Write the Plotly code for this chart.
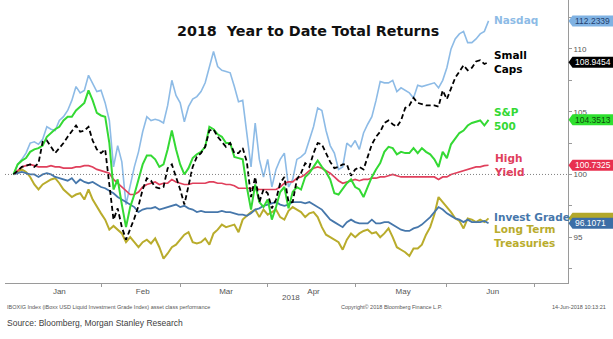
import pandas as pd
import plotly.graph_objects as go

# ---------------- data (index level, 29-Dec-2017 = 100, one value per trading day) ----------
holidays = ["2018-01-01", "2018-01-15", "2018-02-19", "2018-03-30", "2018-05-28"]
month_names = ["Jan", "Feb", "Mar", "Apr", "May", "Jun"]
axis_year = "2018"

nasdaq = [
    100.0, 100.8, 101.2, 101.7, 102.5, 102.6, 102.4, 102.8, 103.8, 103.6,
    103.5, 104.3, 104.6, 105.1, 105.9, 107.0, 106.5, 106.7, 107.9, 107.3,
    106.6, 106.7, 105.7, 104.3, 100.6, 102.3, 101.0, 97.6, 99.2, 100.6,
    101.8, 103.4, 104.6, 104.3, 104.4, 104.3, 104.1, 105.5, 107.5, 106.3,
    105.7, 104.2, 105.4, 106.0, 106.2, 106.6, 107.3, 108.5, 109.8, 108.6,
    108.3, 108.2, 108.1, 107.0, 105.8, 105.9, 103.3, 100.6, 104.1, 101.2,
    99.8, 101.2, 99.0, 100.4, 101.2, 101.7, 99.0, 99.6, 101.2, 101.4,
    101.7, 102.7, 103.8, 105.3, 105.1, 103.5, 102.3, 101.7, 100.4, 100.6,
    102.5, 102.2, 102.7, 102.0, 103.3, 104.0, 104.6, 105.9, 107.4, 107.3,
    107.3, 107.5, 106.6, 106.9, 106.7, 106.5, 106.1, 107.1, 107.0, 107.1,
    107.2, 107.3, 106.9, 107.5, 108.5, 110.0, 110.8, 111.2, 111.4, 110.5,
    110.5, 110.8, 111.2, 111.4, 112.2339]

small_caps = [
    100.0, 100.3, 100.6, 100.7, 100.8, 100.6, 100.9, 102.6, 102.7, 102.2,
    101.7, 102.1, 102.5, 103.0, 103.5, 103.9, 103.4, 103.5, 103.8, 102.7,
    102.0, 101.7, 102.0, 99.0, 96.4, 97.3, 95.8, 94.8, 95.6, 96.5,
    97.5, 98.8, 99.7, 99.5, 99.0, 98.9, 99.0, 100.5, 100.8, 99.8,
    98.8, 97.6, 99.0, 100.6, 101.4, 101.7, 102.2, 103.5, 103.6, 103.0,
    102.6, 102.2, 102.5, 101.7, 101.7, 102.1, 101.0, 98.2, 99.8, 97.8,
    98.8, 98.5, 97.3, 98.0, 99.3, 99.8, 97.8, 97.8, 99.6, 100.1,
    100.9, 100.6, 101.7, 102.5, 102.4, 101.7, 101.0, 100.5, 100.6, 100.8,
    100.8, 99.9, 100.4, 100.6, 100.4, 101.4, 102.4, 103.0, 103.4, 104.1,
    104.3, 104.0, 103.8, 104.3, 105.3, 105.5, 106.1, 105.7, 105.6, 105.5,
    105.5, 105.5, 105.4, 106.7, 106.0, 106.9, 107.7, 108.2, 108.7, 108.3,
    108.5, 109.0, 109.1, 108.8, 108.9454]

sp500 = [
    100.0, 100.8, 101.1, 101.3, 101.8, 102.0, 102.1, 102.3, 103.0, 103.3,
    103.6, 103.8, 104.3, 104.6, 104.6, 105.1, 105.4, 105.7, 106.7, 105.9,
    104.9, 104.7, 104.6, 102.5, 98.8, 99.6, 97.6, 95.8, 97.4, 98.4,
    99.6, 100.8, 101.5, 101.5, 101.2, 100.6, 100.8, 102.0, 103.5, 102.0,
    100.8, 100.0, 100.5, 101.3, 101.6, 101.8, 102.2, 103.8, 103.6, 103.2,
    103.0, 102.5, 102.5, 101.4, 101.3, 101.2, 99.0, 97.2, 99.2, 97.8,
    97.4, 98.0, 96.4, 97.4, 98.6, 99.0, 97.3, 98.6, 99.0, 98.8,
    99.8, 100.1, 100.6, 101.1, 100.6, 100.2, 99.6, 98.5, 98.4, 98.9,
    99.3, 99.6, 99.0, 98.8, 98.2, 99.0, 99.8, 100.4, 100.9, 101.8,
    102.2, 102.1, 101.6, 101.8, 101.7, 101.7, 102.1, 101.7, 102.1, 101.8,
    101.6, 101.2, 100.6, 101.8, 101.3, 102.4, 102.9, 103.3, 103.5, 103.9,
    104.1, 104.2, 104.3, 103.9, 104.3513]

high_yield = [
    100.0, 100.3, 100.6, 100.7, 100.8, 100.7, 100.6, 100.6, 100.6, 100.7,
    100.6, 100.6, 100.5, 100.5, 100.5, 100.6, 100.6, 100.7, 100.7, 100.6,
    100.4, 100.3, 100.2, 100.1, 99.6, 99.3, 99.0, 98.7, 98.4, 98.4,
    98.6, 99.0, 99.2, 99.3, 99.4, 99.2, 99.3, 99.3, 99.6, 99.4,
    99.3, 99.2, 99.2, 99.3, 99.3, 99.3, 99.3, 99.4, 99.4, 99.3,
    99.3, 99.2, 99.2, 99.1, 98.9, 98.9, 98.9, 98.9, 98.9, 98.8,
    98.8, 98.8, 98.8, 98.8, 99.0, 99.3, 99.4, 99.4, 99.7, 99.8,
    100.0, 100.3, 100.5, 100.6, 100.5, 100.3, 100.1, 99.8, 99.5, 99.3,
    99.4, 99.5, 99.6, 99.5, 99.6, 99.6, 99.7, 99.7, 99.8, 99.8,
    99.9, 100.0, 99.9, 99.8, 99.8, 99.8, 99.8, 99.8, 99.8, 99.8,
    99.8, 99.8, 99.6, 99.8, 99.8, 100.0, 100.1, 100.2, 100.3, 100.4,
    100.5, 100.6, 100.6, 100.7, 100.7325]

invest_grade = [
    100.0, 100.1, 100.2, 100.1, 100.0, 100.0, 99.8, 100.0, 100.1, 100.0,
    99.8, 99.7, 99.6, 99.5, 99.7, 99.3, 99.6, 99.4, 99.3, 99.4,
    99.2, 99.0, 98.9, 98.7, 98.5, 98.2, 98.0, 97.8, 97.6, 97.4,
    97.0, 97.2, 97.3, 97.3, 97.4, 97.2, 97.3, 97.4, 97.5, 97.6,
    97.4, 97.5, 97.3, 97.2, 97.0, 97.1, 97.0, 97.0, 97.0, 97.0,
    97.1, 97.0, 97.0, 96.9, 96.8, 96.8, 96.7, 96.9, 97.2, 97.3,
    97.5, 97.6, 97.7, 97.8, 97.6, 97.5, 97.6, 97.8, 97.8, 97.8,
    97.7, 97.8, 97.6, 97.4, 97.2, 96.8, 96.4, 96.2, 96.0, 95.8,
    96.2, 96.4, 96.2, 96.1, 96.1, 96.1, 96.4, 96.1, 96.1, 96.2,
    96.2, 96.0, 95.8, 95.6, 95.5, 95.5, 95.7, 95.8, 96.0, 96.3,
    96.6, 97.0, 97.4, 97.2, 96.9, 96.7, 96.5, 96.4, 96.2, 96.4,
    96.2, 96.2, 96.2, 96.3, 96.1071]

long_treasuries = [
    100.0, 100.2, 100.4, 100.2, 99.8, 99.2, 98.8, 99.2, 99.4, 99.6,
    99.7, 99.3, 98.8, 98.5, 98.2, 98.4, 98.5, 98.0, 98.8, 98.0,
    97.4, 96.9, 96.4, 95.6, 95.9, 95.6, 95.3, 94.6, 95.0, 94.6,
    94.2, 94.6, 94.8, 94.5, 94.9, 94.2, 93.3, 93.7, 94.2, 94.4,
    94.8, 95.2, 95.4, 94.6, 94.5, 94.6, 94.9, 94.4, 95.3, 95.6,
    96.0, 95.8, 95.9, 96.0, 95.4, 96.4, 96.7, 97.0, 97.2, 96.6,
    97.2, 96.8, 97.0, 97.2, 96.6, 96.4, 97.1, 97.4, 97.2, 97.0,
    96.6, 96.9, 97.0, 96.6, 95.8, 95.2, 95.0, 94.8, 94.6, 94.0,
    94.8, 95.3, 95.0, 95.3, 95.5, 95.6, 95.3, 95.4, 95.0, 95.3,
    95.7, 95.0, 94.2, 94.0, 93.8, 93.5, 94.1, 94.1, 94.4, 95.2,
    95.8, 96.8, 98.2, 97.8, 97.4, 97.0, 96.5, 96.3, 95.7, 96.5,
    96.4, 96.2, 96.4, 96.2, 96.5]

series_names = ["Nasdaq", "Long Term Treasuries", "Invest Grade", "High Yield", "S&P 500", "Small Caps"]

# ---------------- trading calendar ----------------
cal = pd.bdate_range("2017-12-29", "2018-06-29")
cal = cal[~cal.isin(pd.to_datetime(holidays))]
pos = list(range(len(cal)))
month_end_pos, month_mid_pos = [], []
for m in range(1, 7):
    ids = [p for p, d in zip(pos, cal) if d.month == m and d.year == 2018]
    month_end_pos.append(max(ids))
    month_mid_pos.append(sum(ids) / len(ids))

# ---------------- figure geometry helpers ----------------
W, H = 613, 339
ML, MR, MT, MB = 5, 45, 0, 56
PW, PH = W - ML - MR, H - MT - MB
Y_LO, Y_HI = 91.35, 113.9


def px_x(px):
    return (px - ML) / PW


def px_y(py):
    return (H - MB - py) / PH


colors = {
    "Nasdaq": "#8dbbe6",
    "Small Caps": "#000000",
    "S&P 500": "#34d934",
    "High Yield": "#e0405c",
    "Invest Grade": "#4677ab",
    "Long Term Treasuries": "#b9ac2c",
}

data = {
    "Nasdaq": nasdaq,
    "Long Term Treasuries": long_treasuries,
    "Invest Grade": invest_grade,
    "High Yield": high_yield,
    "S&P 500": sp500,
    "Small Caps": small_caps,
}

fig = go.Figure()
for name in series_names:
    vals = data[name]
    dash = "5px,3px" if name == "Small Caps" else "solid"
    width = {"Nasdaq": 1.6, "S&P 500": 2.0, "Small Caps": 1.8, "High Yield": 1.7,
             "Invest Grade": 1.8, "Long Term Treasuries": 2.0}[name]
    fig.add_trace(go.Scatter(
        x=pos[:len(vals)], y=vals, mode="lines", name=name,
        text=[d.strftime("%d-%b-%Y") for d in cal[:len(vals)]],
        hovertemplate="%{text}: %{y:.2f}<extra>" + name + "</extra>",
        line=dict(color=colors[name], width=width, dash=dash),
        showlegend=False,
    ))

x_lo = (ML - 13.5) / 4.167
x_hi = (W - MR - 13.5) / 4.167

fig.update_layout(
    template="none",
    width=W, height=H,
    margin=dict(l=ML, r=MR, t=MT, b=MB, autoexpand=False),
    paper_bgcolor="white", plot_bgcolor="white",
    font=dict(family="Liberation Sans, Arial, sans-serif", color="#555555"),
    xaxis=dict(
        range=[x_lo, x_hi], autorange=False, automargin=False,
        showgrid=False, zeroline=False,
        showline=True, linecolor="#9a9a9a", linewidth=1,
        tickmode="array", tickvals=month_mid_pos, ticktext=month_names,
        ticks="", tickfont=dict(size=8, color="#555555"),
        minor=dict(tickmode="array", tickvals=month_end_pos, ticks="outside",
                   ticklen=3, tickcolor="#9a9a9a", showgrid=False),
    ),
    yaxis=dict(
        side="right", range=[Y_LO, Y_HI], autorange=False, automargin=False,
        showgrid=False, zeroline=False,
        showline=True, linecolor="#9a9a9a", linewidth=1,
        tickmode="array", tickvals=[95, 100, 105, 110],
        ticks="outside", ticklen=3, tickcolor="#9a9a9a",
        tickfont=dict(size=8, color="#555555"),
        minor=dict(tickmode="array", tickvals=[92.5, 97.5, 102.5, 107.5, 112.5],
                   ticks="outside", ticklen=3, tickcolor="#9a9a9a", showgrid=False),
    ),
)

# dotted reference line at 100
fig.add_shape(type="line", xref="paper", yref="y", x0=0, x1=1, y0=100, y1=100,
              line=dict(color="#808080", width=1, dash="1px,2px"))

annotations = []
# title
annotations.append(dict(text="2018\u00a0\u00a0Year to Date Total Returns", xref="paper", yref="paper",
                        x=px_x(308), y=px_y(31), xanchor="center", yanchor="middle", showarrow=False,
                        font=dict(family="DejaVu Sans", size=14.3, color="#111111", weight="bold")))

# series labels
labels = [
    ("Nasdaq", "Nasdaq", 20),
    ("Small<br>Caps", "Small Caps", 62),
    ("S&P<br>500", "S&P 500", 118.5),
    ("High<br>Yield", "High Yield", 164.5),
    ("Invest Grade", "Invest Grade", 217),
    ("Long Term<br>Treasuries", "Long Term Treasuries", 236),
]
for txt, key, py in labels:
    annotations.append(dict(text=txt, xref="paper", yref="paper", x=px_x(492), y=px_y(py),
                            xanchor="left", yanchor="middle", align="left", showarrow=False,
                            font=dict(family="DejaVu Sans", size=10.5, color=colors[key], weight="bold")))

# last-value tags on right axis (treasury tag sits underneath the invest-grade tag)
tag_order = ["Nasdaq", "Small Caps", "S&P 500", "High Yield", "Long Term Treasuries", "Invest Grade"]
tag_text_color = {"Nasdaq": "#1f3f6e", "Small Caps": "#ffffff", "S&P 500": "#0d4d0d",
                  "High Yield": "#ffffff", "Invest Grade": "#ffffff"}
tag_fill = {"Nasdaq": "#7fb2e3", "Small Caps": "#000000", "S&P 500": "#2fe02f",
            "High Yield": "#e8304f", "Long Term Treasuries": "#b3a82a", "Invest Grade": "#3c6ea6"}
half_h = 5.5 / (PH / (Y_HI - Y_LO))
for key in tag_order:
    v = data[key][-1]
    xt, xb, xr = px_x(568.5), px_x(572.5), px_x(613)
    path = (f"M {xt},{v} L {xb},{v + half_h} L {xr},{v + half_h} "
            f"L {xr},{v - half_h} L {xb},{v - half_h} Z")
    fig.add_shape(type="path", xref="paper", yref="y", path=path,
                  fillcolor=tag_fill[key], line=dict(width=0), layer="above")
    if key in tag_text_color:
        annotations.append(dict(text=f"{v:.4f}", xref="paper", yref="y", x=px_x(573), y=v,
                                xanchor="left", yanchor="middle", showarrow=False,
                                font=dict(family="Liberation Sans Narrow, Liberation Sans, Arial", size=8.5,
                                          color=tag_text_color[key])))

# axis year and footers
annotations.append(dict(text=axis_year, xref="paper", yref="paper", x=px_x(291), y=px_y(297),
                        xanchor="center", yanchor="middle", showarrow=False,
                        font=dict(size=8, color="#555555")))
annotations.append(dict(text="IBOXIG Index (iBoxx USD Liquid Investment Grade Index) asset class performance",
                        xref="paper", yref="paper", x=px_x(5), y=px_y(307), xanchor="left", yanchor="middle",
                        showarrow=False, font=dict(size=5.5, color="#555555")))
annotations.append(dict(text="Copyright\u00a9 2018 Bloomberg Finance L.P.", xref="paper", yref="paper",
                        x=px_x(392), y=px_y(307), xanchor="center", yanchor="middle", showarrow=False,
                        font=dict(size=5.5, color="#555555")))
annotations.append(dict(text="14-Jun-2018 10:13:21", xref="paper", yref="paper", x=px_x(608), y=px_y(307),
                        xanchor="right", yanchor="middle", showarrow=False,
                        font=dict(size=5.5, color="#555555")))
annotations.append(dict(text="Source: Bloomberg, Morgan Stanley Research", xref="paper", yref="paper",
                        x=px_x(5), y=px_y(323), xanchor="left", yanchor="middle", showarrow=False,
                        font=dict(size=8.5, color="#404040")))

fig.update_layout(annotations=annotations)
fig.write_html("out.html")
